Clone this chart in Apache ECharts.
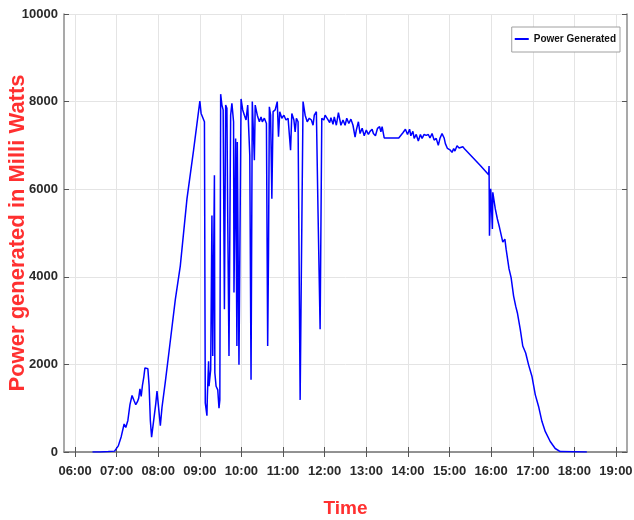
<!DOCTYPE html>
<html>
<head>
<meta charset="utf-8">
<script src="https://cdn.jsdelivr.net/npm/echarts@6.0.0/dist/echarts.min.js"></script>
<style>
  html, body { margin: 0; padding: 0; background: #fff; }
  #chart { width: 634px; height: 520px; }
</style>
</head>
<body>
<div id="chart"></div>
<script>
// time of day in decimal hours
var timeHours = [
  6.42, 6.60, 6.80, 6.95, 7.04, 7.11, 7.18, 7.22, 7.27, 7.32, 7.37, 7.42, 7.46, 7.50, 7.53,
  7.56, 7.59, 7.62, 7.65, 7.68, 7.75, 7.78, 7.81, 7.84, 7.88, 7.94, 7.97, 8.00, 8.05, 8.09,
  8.17, 8.26, 8.41, 8.53, 8.69, 8.85, 9.00, 9.03, 9.06, 9.11, 9.13, 9.17, 9.18, 9.21, 9.22,
  9.26, 9.29, 9.31, 9.35, 9.36, 9.39, 9.43, 9.46, 9.48, 9.50, 9.53, 9.56, 9.59, 9.62, 9.65,
  9.67, 9.70, 9.74, 9.77, 9.81, 9.82, 9.86, 9.89, 9.90, 9.94, 9.99, 10.03, 10.07, 10.11, 10.15,
  10.20, 10.23, 10.26, 10.31, 10.33, 10.38, 10.43, 10.47, 10.50, 10.55, 10.60, 10.63, 10.65, 10.67, 10.70,
  10.73, 10.76, 10.81, 10.86, 10.89, 10.92, 10.97, 11.02, 11.07, 11.12, 11.18, 11.21, 11.26, 11.29, 11.32,
  11.36, 11.41, 11.43, 11.48, 11.53, 11.58, 11.63, 11.68, 11.72, 11.75, 11.80, 11.84, 11.89, 11.93, 11.98,
  12.01, 12.07, 12.12, 12.15, 12.20, 12.23, 12.28, 12.33, 12.39, 12.44, 12.49, 12.53, 12.58, 12.63, 12.68,
  12.73, 12.76, 12.81, 12.85, 12.90, 12.95, 13.00, 13.05, 13.09, 13.14, 13.17, 13.22, 13.27, 13.32, 13.35,
  13.38, 13.43, 13.78, 13.88, 13.94, 13.99, 14.04, 14.07, 14.12, 14.15, 14.20, 14.25, 14.30, 14.34, 14.39,
  14.44, 14.49, 14.53, 14.58, 14.63, 14.68, 14.73, 14.77, 14.82, 14.87, 14.90, 14.95, 15.02, 15.06, 15.10,
  15.13, 15.18, 15.23, 15.27, 15.32, 15.37, 15.40, 15.74, 15.94, 15.95, 15.96, 15.99, 16.03, 16.04, 16.10,
  16.15, 16.20, 16.24, 16.28, 16.33, 16.36, 16.43, 16.48, 16.54, 16.59, 16.63, 16.70, 16.76, 16.83, 16.90,
  16.98, 17.06, 17.14, 17.22, 17.30, 17.42, 17.54, 17.66, 18.30
];
// power in milli watts
var powerMw = [
  0, 0, 10, 20, 140, 350, 640, 560, 720, 1080, 1290, 1170, 1080, 1150, 1230,
  1440, 1270, 1520, 1690, 1920, 1900, 1520, 720, 340, 350, 1100, 1390, 1100, 600, 1020,
  1600, 2300, 3480, 4250, 5780, 6900, 8010, 7730, 7770, 7540, 1120, 830, 1270, 2070, 1500,
  1880, 5400, 2190, 6320, 1810, 1500, 1420, 1000, 1190, 8170, 7920, 7810, 3260, 7920, 7850,
  5320, 2190, 7690, 7960, 7540, 3640, 7160, 2420, 7080, 1990, 8060, 7810, 7690, 7580, 7920,
  6770, 1650, 8000, 6660, 7920, 7690, 7540, 7650, 7540, 7620, 7500, 2420, 4550, 7880, 7690,
  5780, 7770, 7810, 8000, 7200, 7770, 7620, 7690, 7580, 7620, 6890, 7730, 7580, 7310, 7620,
  7540, 1190, 3220, 8000, 7690, 7540, 7620, 7580, 7460, 7690, 7770, 5470, 2800, 7620, 7580,
  7690, 7600, 7520, 7630, 7480, 7650, 7460, 7750, 7460, 7580, 7460, 7620, 7500, 7600, 7460,
  7190, 7350, 7540, 7270, 7390, 7220, 7350, 7250, 7320, 7370, 7270, 7220, 7390, 7430, 7310,
  7430, 7170, 7170, 7290, 7370, 7250, 7370, 7220, 7320, 7160, 7250, 7100, 7250, 7160, 7250,
  7230, 7250, 7170, 7270, 7120, 7160, 7000, 7160, 7270, 7170, 7040, 6930, 6890, 6840, 6930,
  6870, 6990, 6940, 6930, 6970, 6910, 6880, 6540, 6330, 6530, 4940, 6010, 5090, 5930, 5550,
  5320, 5130, 5090, 4790, 4860, 4630, 4180, 3980, 3560, 3330, 3180, 2800, 2420, 2260, 1990,
  1730, 1310, 1040, 700, 470, 240, 80, 10, 0
];
var xTickHours = [6, 7, 8, 9, 10, 11, 12, 13, 14, 15, 16, 17, 18, 19];
var yTicks = [0, 2000, 4000, 6000, 8000, 10000];

var myChart = echarts.init(document.getElementById('chart'));

var sans = '"Liberation Sans", Arial, sans-serif';
var axisGrey = '#8c8c8c';
var titleRed = '#ff3030';

function hourLabel(v) {
    return (v < 10 ? '0' : '') + v + ':00';
}

var xBase = {
    type: 'value',
    min: 5.735,
    max: 19.265,
    axisLine: { show: true, lineStyle: { color: axisGrey, width: 1.5 } },
    axisTick: { show: true, inside: true, length: 5, customValues: xTickHours, lineStyle: { color: '#555' } }
};

var yBase = {
    type: 'value',
    min: yTicks[0],
    max: yTicks[yTicks.length - 1],
    interval: yTicks[1] - yTicks[0],
    axisLine: { show: true, lineStyle: { color: axisGrey, width: 1.5 } },
    axisTick: { show: true, inside: true, length: 5, lineStyle: { color: '#555' } }
};

var option = {
    backgroundColor: '#fff',
    animation: false,
    grid: {
        left: 64,
        right: 7,
        top: 14,
        bottom: 68,
        containLabel: false,
        outerBoundsMode: 'none'
    },
    legend: {
        right: 14,
        top: 27,
        orient: 'vertical',
        icon: 'rect',
        itemWidth: 14,
        itemHeight: 2,
        padding: [7, 4, 8, 3],
        borderColor: '#a0a0a0',
        borderWidth: 1,
        backgroundColor: '#fff',
        textStyle: { fontFamily: sans, fontSize: 10, fontWeight: 'bold', color: '#111' },
        data: ['Power Generated']
    },
    xAxis: [
        Object.assign({}, xBase, {
            position: 'bottom',
            name: 'Time',
            nameLocation: 'middle',
            nameGap: 47,
            nameMoveOverlap: false,
            nameTextStyle: { color: titleRed, fontFamily: sans, fontSize: 19, fontWeight: 'bold' },
            axisLabel: {
                customValues: xTickHours,
                formatter: hourLabel,
                margin: 13,
                color: '#2a2a2a',
                fontFamily: sans,
                fontSize: 13,
                fontWeight: 'bold'
            },
            splitLine: { show: true, lineStyle: { color: '#e4e4e4', width: 1 } }
        }),
        Object.assign({}, xBase, {
            position: 'top',
            axisLabel: { show: false },
            splitLine: { show: false }
        })
    ],
    yAxis: [
        Object.assign({}, yBase, {
            position: 'left',
            name: 'Power generated in Milli Watts',
            nameLocation: 'middle',
            nameGap: 35,
            nameMoveOverlap: false,
            nameTextStyle: { color: titleRed, fontFamily: sans, fontSize: 22, fontWeight: 'bold' },
            axisLabel: {
                margin: 6,
                formatter: function (v) { return String(v); },
                color: '#2a2a2a',
                fontFamily: sans,
                fontSize: 13,
                fontWeight: 'bold'
            },
            splitLine: { show: true, lineStyle: { color: '#e4e4e4', width: 1 } }
        }),
        Object.assign({}, yBase, {
            position: 'right',
            axisLabel: { show: false },
            splitLine: { show: false }
        })
    ],
    series: [
        {
            name: 'Power Generated',
            type: 'line',
            xAxisIndex: 0,
            yAxisIndex: 0,
            showSymbol: false,
            symbol: 'none',
            color: '#0000ff',
            lineStyle: { color: '#0000ff', width: 1.5 },
            data: timeHours.map(function (t, i) { return [t, powerMw[i]]; })
        }
    ]
};

myChart.setOption(option);
</script>
</body>
</html>
